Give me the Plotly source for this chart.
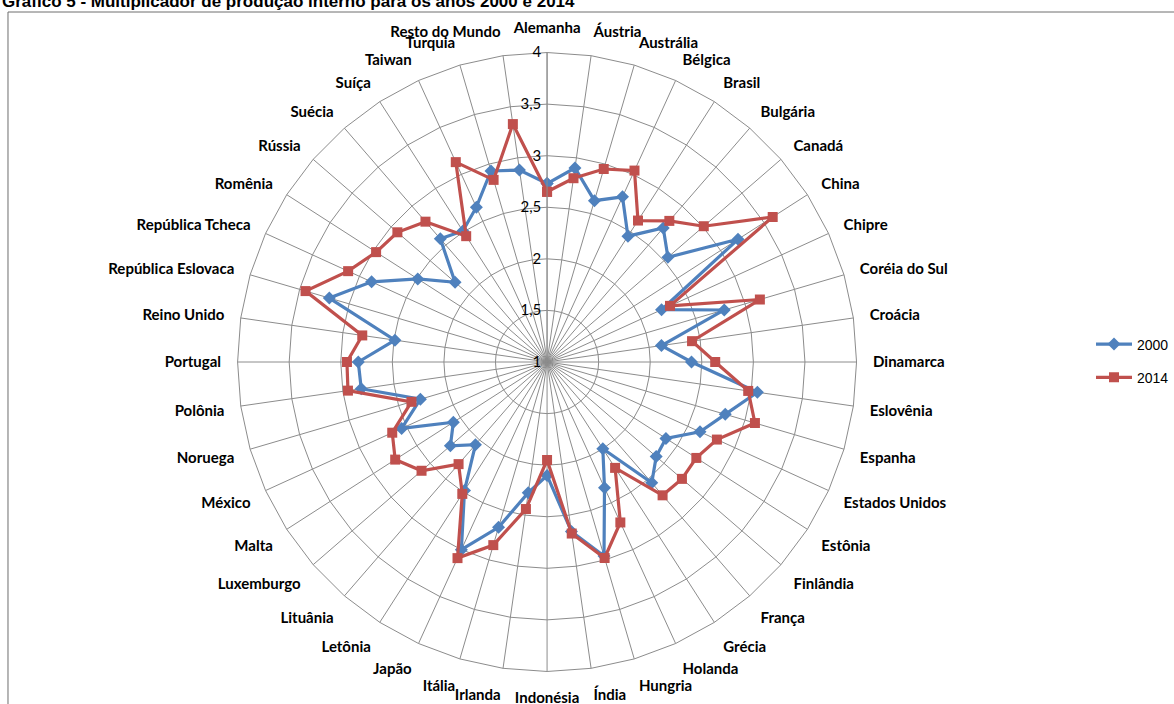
import plotly.graph_objects as go

categories = ["Alemanha", "Áustria", "Austrália", "Bélgica", "Brasil", "Bulgária", "Canadá",
              "China", "Chipre", "Coréia do Sul", "Croácia", "Dinamarca", "Eslovênia", "Espanha",
              "Estados Unidos", "Estônia", "Finlândia", "França", "Grécia", "Holanda", "Hungria",
              "Índia", "Indonésia", "Irlanda", "Itália", "Japão", "Letônia", "Lituânia",
              "Luxemburgo", "Malta", "México", "Noruega", "Polônia", "Portugal", "Reino Unido",
              "República Eslovaca", "República Tcheca", "Romênia", "Rússia", "Suécia", "Suíça",
              "Taiwan", "Turquia", "Resto do Mundo"]

v2000 = [2.73, 2.90, 2.63, 2.76, 2.45, 2.72, 2.55, 3.20, 2.22, 2.79, 2.12, 2.40, 3.06, 2.80,
         2.63, 2.37, 2.40, 2.55, 2.00, 2.34, 2.96, 2.66, 2.10, 2.28, 2.67, 3.00, 2.48, 2.06,
         2.24, 2.08, 2.55, 2.28, 2.82, 2.83, 2.49, 3.20, 2.87, 2.49, 2.18, 2.58, 2.51, 2.65,
         2.93, 2.88]

v2014 = [2.65, 2.80, 2.95, 3.04, 2.63, 2.81, 3.01, 3.60, 2.31, 3.15, 2.42, 2.63, 2.97, 3.10,
         2.81, 2.72, 2.73, 2.71, 2.22, 2.71, 2.98, 2.68, 1.95, 2.44, 2.85, 3.09, 2.52, 2.31,
         2.61, 2.75, 2.65, 2.37, 2.95, 2.94, 2.81, 3.44, 3.12, 2.97, 2.92, 2.80, 2.45, 3.13,
         2.84, 3.33]

series = [("2000", v2000, "#4F81BD", "diamond", 10),
          ("2014", v2014, "#C0504D", "square", 10)]

W, H = 1174, 704
cx, cy, R = 548, 362, 310

fig = go.Figure()
for name, vals, col, sym, ms in series:
    fig.add_trace(go.Scatterpolar(
        r=vals + vals[:1], theta=categories + categories[:1],
        mode="lines+markers", name=name, legendgroup=name,
        line=dict(color=col, width=3.2),
        marker=dict(symbol=sym, size=ms, color=col),
    ))

grid = "#8C8C8C"
fig.update_layout(
    width=W, height=H,
    margin=dict(l=0, r=0, t=0, b=0),
    paper_bgcolor="white",
    separators=",.",
    font=dict(family="Liberation Sans, Arial", size=13, color="black"),
    polar=dict(
        domain=dict(x=[(cx - R) / W, (cx + R) / W], y=[1 - (cy + R) / H, 1 - (cy - R) / H]),
        bgcolor="white",
        gridshape="linear",
        radialaxis=dict(range=[1, 4], dtick=0.5, tick0=1, angle=90, tickangle=90,
                        side="counterclockwise", showline=True, linecolor=grid, linewidth=1,
                        gridcolor=grid, gridwidth=1, ticks="",
                        tickfont=dict(family="Lato, Calibri, sans-serif", size=15, color="black")),
        angularaxis=dict(rotation=90, direction="clockwise", type="category",
                         categoryorder="array", categoryarray=categories,
                         showline=True, linecolor=grid, linewidth=1,
                         gridcolor=grid, gridwidth=1,
                         ticks="outside", ticklen=13, tickcolor="rgba(0,0,0,0)",
                         tickfont=dict(family="Lato, Calibri, sans-serif", size=15,
                                       color="black", weight="bold")),
    ),
    legend=dict(x=1093 / W, y=1 - 361 / H, xanchor="left", yanchor="middle",
                font=dict(family="Liberation Sans, Arial", size=14, color="black"),
                itemwidth=36, tracegroupgap=12, bgcolor="rgba(0,0,0,0)"),
    showlegend=True,
)

fig.add_annotation(
    text="<b>Gráfico 5 - Multiplicador de produção interno para os anos 2000 e 2014</b>",
    xref="paper", yref="paper", x=0, y=1 - 1 / H, xanchor="left", yanchor="middle",
    showarrow=False, font=dict(family="Liberation Sans, Arial", size=17, color="black"),
)

fig.add_shape(type="rect", xref="paper", yref="paper",
              x0=8 / W, x1=1 + 10 / W, y0=-10 / H, y1=1 - 12 / H,
              line=dict(color="#6E6E6E", width=1), fillcolor="rgba(0,0,0,0)", layer="below")

fig.write_html("out.html")
